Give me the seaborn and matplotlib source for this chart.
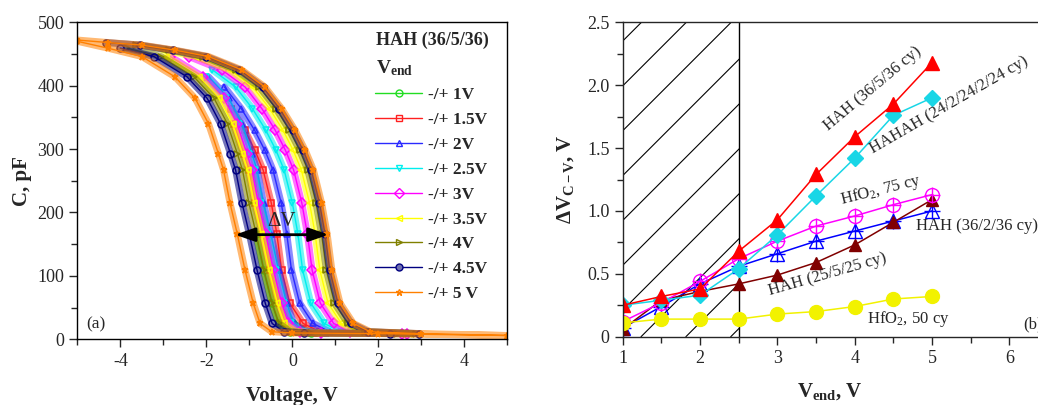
import numpy as np
import pandas as pd
import matplotlib
matplotlib.use("Agg")
import matplotlib.pyplot as plt
import seaborn as sns
from matplotlib.lines import Line2D
from matplotlib.ticker import MultipleLocator, FuncFormatter

# ---------------- Panel (a): C-V hysteresis loops ----------------
vend_levels = [1, 1.5, 2, 2.5, 3, 3.5, 4, 4.5, 5]
vend_labels = ["-/+ 1V", "-/+ 1.5V", "-/+ 2V", "-/+ 2.5V", "-/+ 3V",
               "-/+ 3.5V", "-/+ 4V", "-/+ 4.5V", "-/+ 5 V"]
# shape of the -/+5 V loop (left / right branch)
left_v = [-5.0, -4.28, -3.5, -2.73, -2.26, -1.95, -1.72, -1.60, -1.45, -1.28,
          -1.10, -0.91, -0.75, -0.48, 0.0, 2.0, 5.0]
left_c = [470, 459, 446, 414, 380, 340, 293, 267, 215, 166,
          109, 57, 25, 12, 10, 9, 6]
right_v = [-5.0, -4.28, -3.5, -2.73, -1.95, -1.18, -0.64, -0.25, 0.06, 0.30,
           0.49, 0.68, 0.81, 0.92, 1.11, 1.42, 1.81, 3.0, 5.0]
right_c = [472, 468, 464, 456, 446, 425, 398, 364, 330, 298,
           267, 215, 166, 109, 57, 25, 12, 9, 6]
# voltage of each branch at C = 166 pF for every loop (read)
left_v166 = [-0.85, -0.69, -0.50, -0.56, -0.62, -0.72, -0.84, -1.00, -1.28]
right_v166 = [-0.60, -0.36, -0.13, 0.13, 0.35, 0.53, 0.68, 0.76, 0.81]

loop_colors = ["#22dd22", "#ff2020", "#2a2aff", "#00eeee", "#ff00ff",
               "#ffff00", "#808000", "#000080", "#ff8000"]
loop_markers = ["o", "s", "^", "v", "D", "<", ">", "o", "*"]

# ---------------- Panel (b): hysteresis width vs V_end ----------------
v_end = [1, 1.5, 2, 2.5, 3, 3.5, 4, 4.5, 5]
hah_36_5_36 = [0.25, 0.32, 0.38, 0.68, 0.93, 1.29, 1.59, 1.85, 2.18]
hahah_24_2 = [0.25, 0.29, 0.33, 0.54, 0.81, 1.12, 1.42, 1.76, 1.90]
hfo2_75 = [0.12, 0.27, 0.44, 0.62, 0.76, 0.88, 0.96, 1.05, 1.13]
hah_36_2_36 = [0.07, 0.24, 0.42, 0.56, 0.66, 0.76, 0.84, 0.92, 1.00]
hah_25_5_25 = [0.06, 0.29, 0.36, 0.42, 0.49, 0.59, 0.73, 0.91, 1.09]
hfo2_50 = [0.11, 0.14, 0.14, 0.14, 0.18, 0.20, 0.24, 0.30, 0.32]

# ---------------- style ----------------
sns.set_style("ticks")
plt.rcParams["font.family"] = ["Liberation Serif", "DejaVu Serif"]
plt.rcParams["mathtext.fontset"] = "custom"
plt.rcParams["mathtext.rm"] = "Liberation Serif"
plt.rcParams["mathtext.it"] = "Liberation Serif:italic"
plt.rcParams["mathtext.bf"] = "Liberation Serif:bold"
plt.rcParams["axes.unicode_minus"] = False
plt.rcParams["axes.linewidth"] = 1.0
plt.rcParams["xtick.direction"] = "out"
plt.rcParams["ytick.direction"] = "out"

fig = plt.figure(figsize=(10.38, 4.05), dpi=100)
ax1 = fig.add_axes([0.0745, 0.1622, 0.4143, 0.7828])
ax2 = fig.add_axes([0.5999, 0.1686, 0.4001, 0.7763])

# ---------------- panel (a) ----------------
ref_l = left_v[left_c.index(166)]
ref_r = right_v[right_c.index(166)]
for i, ve in enumerate(vend_levels):
    vl = np.array(left_v) + (left_v166[i] - ref_l)
    vr = np.array(right_v) + (right_v166[i] - ref_r)
    kl = np.abs(vl) <= ve
    kr = np.abs(vr) <= ve
    x = np.concatenate([vl[kl], vr[kr][::-1]])
    y = np.concatenate([np.array(left_c)[kl], np.array(right_c)[kr][::-1]])
    df = pd.DataFrame({"V": x, "C": y})
    col = loop_colors[i]
    sns.lineplot(data=df, x="V", y="C", sort=False, estimator=None, ax=ax1,
                 color=col, lw=5.0, alpha=0.55)
    sns.lineplot(data=df, x="V", y="C", sort=False, estimator=None, ax=ax1,
                 color=col, lw=1.0, marker=loop_markers[i], markersize=5,
                 markerfacecolor="none", markeredgecolor=col, markeredgewidth=1.1)

ax1.set_xlim(-5, 5)
ax1.set_ylim(0, 500)
ax1.xaxis.set_major_locator(MultipleLocator(2))
ax1.xaxis.set_minor_locator(MultipleLocator(1))
ax1.yaxis.set_major_locator(MultipleLocator(100))
ax1.yaxis.set_minor_locator(MultipleLocator(50))
ax1.tick_params(which="major", length=6, width=1, labelsize=13)
ax1.tick_params(which="minor", length=4, width=1)
ax1.set_xlabel("Voltage, V", fontsize=15, fontweight="bold", labelpad=12)
ax1.set_ylabel("C, pF", fontsize=15, fontweight="bold", labelpad=4)
for s in ax1.spines.values():
    s.set_visible(True)
    s.set_color("black")

ax1.annotate("", xy=(-1.33, 165), xytext=(0.84, 165),
             arrowprops=dict(arrowstyle="<|-|>,head_length=1.0,head_width=0.35",
                             color="black", lw=2, shrinkA=0, shrinkB=0,
                             mutation_scale=12))
ax1.text(-0.25, 171, "ΔV", ha="center", va="bottom", fontsize=15)
ax1.text(-4.8, 18, "(a)", ha="left", va="baseline", fontsize=12.5)

ax1.text(0.695, 0.928, "HAH (36/5/36)", transform=ax1.transAxes,
         ha="left", va="baseline", fontsize=13, fontweight="bold")
ax1.text(0.695, 0.84, r"$\mathbf{V_{end}}$", transform=ax1.transAxes,
         ha="left", va="baseline", fontsize=14)

handles = []
for i in range(len(vend_levels)):
    handles.append(Line2D([], [], color=loop_colors[i], lw=1,
                          marker=loop_markers[i], markersize=5,
                          markerfacecolor="none" if i != 7 else "#7070b0",
                          markeredgecolor=loop_colors[i]))
leg = ax1.legend(handles, vend_labels, loc="upper left",
                 bbox_to_anchor=(0.693, 0.795), frameon=False,
                 handlelength=2.7, handletextpad=0.35, labelspacing=0.5,
                 borderpad=0, borderaxespad=0,
                 prop=dict(family="Liberation Serif", weight="bold", size=12.5))

# ---------------- panel (b) ----------------
ax2.set_xlim(1, 6.37)
ax2.set_ylim(0, 2.5)

# hatched region 1 <= V_end <= 2.5
span = ax2.axvspan(1, 2.5, facecolor="none", edgecolor="none")
fig.canvas.draw()
p0 = ax2.transData.transform((1, 0))
p1 = ax2.transData.transform((2, 1))
k = (p1[0] - p0[0]) / (p1[1] - p0[1])  # data-y per data-x for 45 deg lines
step = 0.58
for j in range(-8, 6):
    x0 = 1.237 + step * j
    xs = np.array([x0, x0 + 2.5 / k])
    ys = (xs - x0) * k
    ln, = ax2.plot(xs, ys, color="black", lw=0.8)
    ln.set_clip_path(span)
ax2.axvline(2.5, color="black", lw=1.0)

series = [
    (hah_36_2_36, "#0000ff", "^", "none", 10, True),
    (hah_25_5_25, "#800000", "^", "#800000", 9, False),
    (hfo2_75, "#ff00ff", "o", "none", 10, True),
    (hahah_24_2, "#19d6e6", "D", "#19d6e6", 8, False),
    (hah_36_5_36, "#ff0000", "^", "#ff0000", 10, False),
    (hfo2_50, "#f2f200", "o", "#f2f200", 10, False),
]
for vals, col, mk, mfc, ms, plus in series:
    sns.lineplot(x=v_end, y=vals, ax=ax2, sort=False, estimator=None,
                 color=col, lw=1.1, marker=mk, markersize=ms,
                 markerfacecolor=mfc, markeredgecolor=col, markeredgewidth=1.0)
    if plus:
        sns.lineplot(x=v_end, y=vals, ax=ax2, sort=False, estimator=None,
                     color=col, lw=0, marker="+", markersize=ms + 1,
                     markeredgecolor=col, markeredgewidth=1.0)

ax2.xaxis.set_major_locator(MultipleLocator(1))
ax2.xaxis.set_minor_locator(MultipleLocator(0.5))
ax2.yaxis.set_major_locator(MultipleLocator(0.5))
ax2.yaxis.set_minor_locator(MultipleLocator(0.25))
ax2.yaxis.set_major_formatter(FuncFormatter(lambda v, p: "0" if abs(v) < 1e-9 else f"{v:.1f}"))
ax2.tick_params(which="major", length=6, width=1, labelsize=13)
ax2.tick_params(which="minor", length=4, width=1)
ax2.spines["top"].set_visible(True)
ax2.spines["right"].set_visible(False)
ax2.set_xlabel(r"$\mathbf{V_{end}}$, V", fontsize=15, fontweight="bold", labelpad=10)
ax2.set_ylabel(r"$\mathbf{\Delta V_{C-V}}$, V", fontsize=15, fontweight="bold", labelpad=8)

tkw = dict(fontsize=12, ha="left", va="baseline", rotation_mode="anchor")
ax2.text(3.66, 1.64, "HAH (36/5/36 cy)", rotation=40, **tkw)
ax2.text(4.24, 1.46, "HAHAH (24/2/24/2/24 cy)", rotation=30, **tkw)
ax2.text(3.83, 1.05, "HfO$_2$, 75 cy", rotation=14, **tkw)
ax2.text(2.905, 0.33, "HAH (25/5/25 cy)", rotation=16, **tkw)
ax2.text(4.79, 0.85, "HAH (36/2/36 cy)", **tkw)
ax2.text(4.16, 0.11, "HfO$_2$, 50 cy", **tkw)
ax2.text(6.18, 0.067, "(b)", **tkw)

fig.savefig("out.png", dpi=100)
